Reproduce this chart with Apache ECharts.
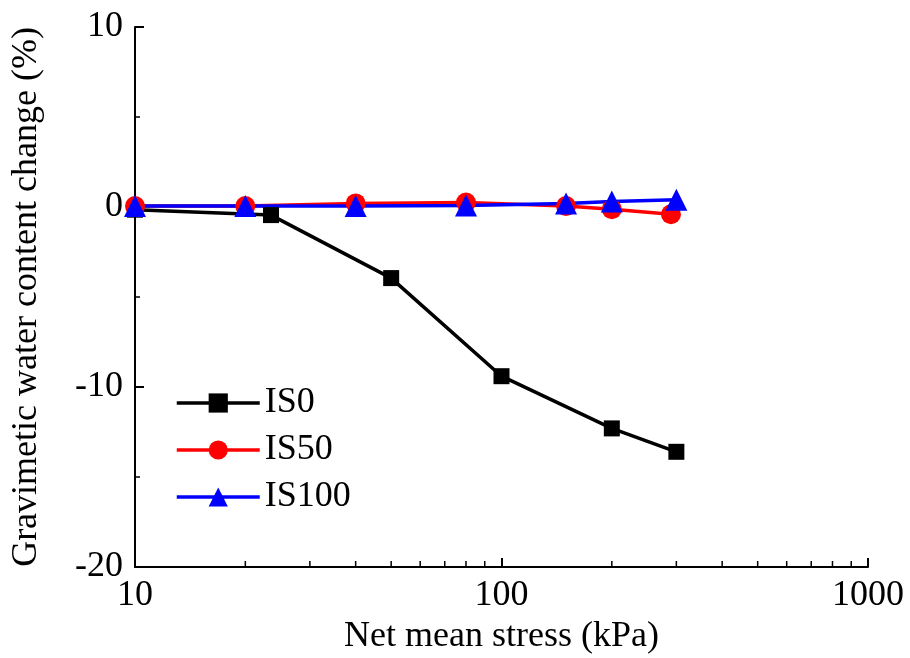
<!DOCTYPE html>
<html>
<head>
<meta charset="utf-8">
<script src="https://cdn.jsdelivr.net/npm/echarts@6/dist/echarts.min.js"></script>
<style>
  html, body { margin: 0; padding: 0; background: #fff; }
  #chart { width: 910px; height: 658px; }
</style>
</head>
<body>
<div id="chart"></div>
<script>
// values
var seriesNames = ['IS0', 'IS50', 'IS100'];
var is0 = [[10, -0.15], [23.5, -0.45], [50, -3.95], [100, -9.4], [200, -12.3], [300, -13.6]];
var is50 = [[10, 0.05], [20, 0.05], [40, 0.2], [80, 0.25], [150, 0.05], [200, -0.12], [290, -0.4]];
var is100 = [[10, 0.05], [20, 0.05], [40, 0.05], [80, 0.08], [150, 0.2], [200, 0.3], [300, 0.4]];
var xMinorTicks = [20, 30, 40, 50, 60, 70, 80, 90, 200, 300, 400, 500, 600, 700, 800, 900];
var yMin = -20, yMax = 10;

var font = 'Liberation Serif';
var myChart = echarts.init(document.getElementById('chart'));

function lineSeries(name, data, color, symbol, size) {
    return {
        name: name,
        type: 'line',
        data: data,
        symbol: symbol,
        symbolSize: size,
        lineStyle: { color: color, width: 3.5 },
        itemStyle: { color: color },
        animation: false
    };
}

myChart.setOption({
    backgroundColor: '#fff',
    grid: { left: 135, right: 42, top: 27, bottom: 91, outerBoundsMode: 'none', containLabel: false },
    legend: {
        data: seriesNames,
        orient: 'vertical',
        left: 175,
        top: 385,
        padding: 0,
        itemWidth: 83,
        itemHeight: 24,
        itemGap: 11,
        lineStyle: { width: 3.5 },
        textStyle: { fontFamily: font, fontSize: 36, color: '#000', lineHeight: 34 }
    },
    xAxis: {
        type: 'log',
        logBase: 10,
        min: 10,
        max: 1000,
        name: 'Net mean stress (kPa)',
        nameLocation: 'middle',
        nameGap: 52,
        nameTextStyle: { fontFamily: font, fontSize: 36, color: '#000' },
        axisLine: { onZero: false, lineStyle: { color: '#000', width: 2 } },
        axisTick: { inside: true, length: 9, lineStyle: { color: '#000', width: 2 } },
        axisLabel: {
            fontFamily: font, fontSize: 36, color: '#000', margin: 11,
            formatter: function (v) { return String(Math.round(v)); }
        },
        splitLine: { show: false }
    },
    yAxis: {
        type: 'value',
        min: yMin,
        max: yMax,
        interval: 10,
        name: 'Gravimetic water content change (%)',
        nameLocation: 'middle',
        nameGap: 90,
        nameTextStyle: { fontFamily: font, fontSize: 36, color: '#000' },
        axisLine: { show: true, onZero: false, lineStyle: { color: '#000', width: 2 } },
        axisTick: { show: true, inside: true, length: 9, lineStyle: { color: '#000', width: 2 } },
        minorTick: { show: true, splitNumber: 2, length: 5, lineStyle: { color: '#000', width: 1.5 } },
        axisLabel: { fontFamily: font, fontSize: 36, color: '#000', margin: 12 },
        splitLine: { show: false }
    },
    series: [
        lineSeries('IS0', is0, '#000000', 'rect', 16),
        lineSeries('IS50', is50, '#ff0000', 'circle', 20),
        lineSeries('IS100', is100, '#0000ff', 'triangle', 22),
        {
            // minor ticks of the log axis
            type: 'custom',
            silent: true,
            animation: false,
            data: xMinorTicks.map(function (v) { return [v, yMin]; }),
            renderItem: function (params, api) {
                var p = api.coord([api.value(0), api.value(1)]);
                return {
                    type: 'line',
                    shape: { x1: p[0], y1: p[1], x2: p[0], y2: p[1] - 6 },
                    style: { stroke: '#000', lineWidth: 1.5 }
                };
            }
        }
    ]
});
</script>
</body>
</html>
